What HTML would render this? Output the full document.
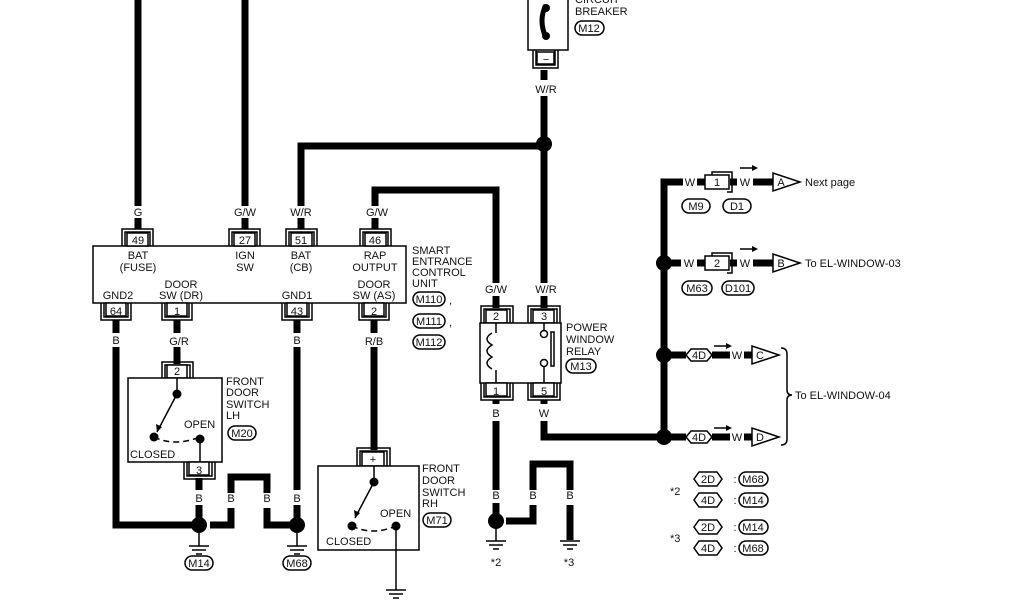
<!DOCTYPE html>
<html><head><meta charset="utf-8"><style>
html,body{margin:0;padding:0;background:#fff;}
svg{display:block;}
text{font-family:"Liberation Sans",Arial,sans-serif;font-size:11px;fill:#111;}
</style></head><body>
<svg width="1024" height="600" viewBox="0 0 1024 600" xmlns="http://www.w3.org/2000/svg">
<g stroke="#000" stroke-width="7" fill="none" stroke-linejoin="miter">
<line x1="138" y1="0" x2="138" y2="206"/><line x1="138" y1="218" x2="138" y2="229"/>
<line x1="245" y1="0" x2="245" y2="206"/><line x1="245" y1="218" x2="245" y2="229"/>
<polyline points="301,206 301,146 544,146"/><line x1="301" y1="218" x2="301" y2="229"/>
<line x1="544" y1="70" x2="544" y2="80"/><line x1="544" y1="96" x2="544" y2="283"/><line x1="544" y1="296" x2="544" y2="308"/>
<polyline points="375,206 375,190 496,190 496,283"/><line x1="375" y1="218" x2="375" y2="229"/><line x1="496" y1="296" x2="496" y2="308"/>
<line x1="116" y1="320" x2="116" y2="333"/><polyline points="116,347 116,525 195,525"/>
<line x1="177" y1="320" x2="177" y2="333"/><line x1="177" y1="347" x2="177" y2="364"/>
<line x1="297" y1="320" x2="297" y2="333"/><line x1="297" y1="347" x2="297" y2="490"/><line x1="297" y1="505" x2="297" y2="518"/>
<line x1="374" y1="320" x2="374" y2="333"/><line x1="374" y1="347" x2="374" y2="450"/>
<line x1="199" y1="478" x2="199" y2="490"/><line x1="199" y1="505" x2="199" y2="518"/>
<polyline points="210,525 231,525 231,508"/><polyline points="231,493 231,477 267,477 267,493"/><polyline points="267,508 267,525 290,525"/>
<line x1="496" y1="400" x2="496" y2="404"/><line x1="496" y1="421" x2="496" y2="490"/><line x1="496" y1="503" x2="496" y2="514"/>
<polyline points="506,521 533,521 533,505"/><polyline points="533,490 533,464 570,464 570,490"/><line x1="570" y1="505" x2="570" y2="540"/>
<line x1="544" y1="400" x2="544" y2="404"/><polyline points="544,421 544,437 664,437"/>
<polyline points="664,437 664,182 683,182"/><line x1="697" y1="182" x2="705" y2="182"/>
<line x1="670" y1="263" x2="681" y2="263"/><line x1="697" y1="263" x2="705" y2="263"/>
<line x1="730" y1="182" x2="737" y2="182"/><line x1="753" y1="182" x2="773" y2="182"/>
<line x1="730" y1="263" x2="737" y2="263"/><line x1="753" y1="263" x2="773" y2="263"/>
<line x1="670" y1="355" x2="686" y2="355"/><line x1="712" y1="355" x2="730" y2="355"/><line x1="744" y1="355" x2="752" y2="355"/>
<line x1="670" y1="437" x2="686" y2="437"/><line x1="712" y1="437" x2="730" y2="437"/><line x1="744" y1="437" x2="752" y2="437"/>
</g>
<g fill="#000">
<circle cx="544" cy="144" r="8"/><circle cx="199" cy="525" r="8"/><circle cx="297" cy="525" r="8"/><circle cx="496" cy="521" r="8"/>
<circle cx="664" cy="263" r="8"/><circle cx="664" cy="355" r="8"/><circle cx="664" cy="437" r="8"/>
</g>
<g stroke="#000" stroke-width="1.5" fill="#fff">
<rect x="528" y="-2" width="40" height="52"/>
<path d="M533,50 V68 H558 V50 M536,50 V65 H555 V50" fill="none"/>
<rect x="537" y="52" width="17" height="12"/>
<rect x="93" y="246" width="313" height="57"/>
</g>
<path d="M546,5 q-8,15 0,33" stroke="#000" stroke-width="5" fill="none"/>
<circle cx="546" cy="8" r="4"/><circle cx="546" cy="36" r="4"/>
<g stroke="#000" stroke-width="1.5" fill="#fff">
<path d="M122,246 V229 H153 V246 M125,246 V232 H150 V246" fill="none"/><rect x="127" y="233" width="21" height="13"/>
<path d="M229,246 V229 H260 V246 M232,246 V232 H257 V246" fill="none"/><rect x="234" y="233" width="21" height="13"/>
<path d="M286,246 V229 H317 V246 M289,246 V232 H314 V246" fill="none"/><rect x="291" y="233" width="21" height="13"/>
<path d="M360,246 V229 H391 V246 M363,246 V232 H388 V246" fill="none"/><rect x="365" y="233" width="21" height="13"/>
<path d="M101,303 V320 H131 V303 M104,303 V317 H128 V303" fill="none"/><rect x="106" y="303" width="20" height="13"/>
<path d="M162,303 V320 H192 V303 M165,303 V317 H189 V303" fill="none"/><rect x="167" y="303" width="20" height="13"/>
<path d="M282,303 V320 H312 V303 M285,303 V317 H309 V303" fill="none"/><rect x="287" y="303" width="20" height="13"/>
<path d="M359,303 V320 H389 V303 M362,303 V317 H386 V303" fill="none"/><rect x="364" y="303" width="20" height="13"/>
<path d="M162,378 V362 H193 V378 M165,378 V365 H190 V378" fill="none"/><rect x="167" y="365" width="20" height="13"/>
<rect x="128" y="378" width="94" height="84"/>
<path d="M184,462 V479 H215 V462 M187,462 V476 H212 V462" fill="none"/><rect x="189" y="462" width="20" height="13"/>
<path d="M357,466 V448 H390 V466 M360,466 V451 H387 V466" fill="none"/><rect x="362" y="452" width="22" height="14"/>
<rect x="318" y="466" width="101" height="84"/>
<path d="M481,323 V306 H513 V323 M484,323 V309 H510 V323" fill="none"/><rect x="486" y="310" width="21" height="13"/>
<path d="M528,323 V306 H560 V323 M531,323 V309 H557 V323" fill="none"/><rect x="533" y="310" width="21" height="13"/>
<rect x="480" y="323" width="81" height="60"/>
<path d="M481,383 V400 H513 V383 M484,383 V397 H510 V383" fill="none"/><rect x="486" y="383" width="21" height="13"/>
<path d="M528,383 V400 H560 V383 M531,383 V397 H557 V383" fill="none"/><rect x="533" y="383" width="21" height="13"/>
</g>
<g stroke="#000" stroke-width="1.5" fill="none">
<line x1="177" y1="378" x2="177" y2="394"/><line x1="177" y1="394" x2="157" y2="432"/>
<path d="M154,437 q20,10 46,0" stroke-dasharray="6,4"/><line x1="200" y1="439" x2="200" y2="462"/>
<line x1="374" y1="466" x2="374" y2="482"/><line x1="374" y1="482" x2="355" y2="518"/>
<path d="M352,526 q20,10 44,0" stroke-dasharray="6,4"/><line x1="396" y1="526" x2="396" y2="590"/>
<line x1="496" y1="323" x2="496" y2="333"/><line x1="496" y1="370" x2="496" y2="383"/>
<path d="M492,333 q-10,6 0,12 q-10,6 0,12 q-10,6 0,12"/>
<line x1="544" y1="323" x2="544" y2="330"/><line x1="544" y1="367" x2="544" y2="383"/>
<circle cx="544" cy="334" r="3.5"/><circle cx="544" cy="363" r="3.5"/>
<rect x="551" y="332" width="3" height="34"/>
<path d="M199,533 V546 M189,546 H209 M192,550 H206 M196,554 H202"/>
<path d="M297,533 V546 M287,546 H307 M290,550 H304 M294,554 H300"/>
<path d="M496,529 V541 M486,541 H506 M489,545 H503 M493,549 H499"/>
<path d="M560,541 H580 M563,545 H577 M567,549 H573"/>
<path d="M386,590 H406 M389,594 H403 M393,598 H399"/>
<path d="M781,348 q6,0 6,6 V390 q0,5 5,5 q-5,0 -5,5 V439 q0,6 -6,6"/>
</g>
<g fill="#000"><circle cx="177" cy="394" r="4.5"/><circle cx="154" cy="437" r="4.5"/><circle cx="200" cy="439" r="4.5"/>
<circle cx="374" cy="482" r="4.5"/><circle cx="352" cy="526" r="4.5"/><circle cx="396" cy="526" r="4.5"/>
<path d="M157,432 l-1,-8 l6,3z"/><path d="M355,518 l-1,-8 l6,3z"/></g>
<g stroke="#000" stroke-width="1.5" fill="#fff">
<rect x="705" y="175" width="24" height="14"/><path d="M712,175 V172 H732 V192 H727" fill="none"/>
<rect x="705" y="256" width="24" height="14"/><path d="M712,256 V253 H732 V273 H727" fill="none"/>
<path d="M686,355 l5,-6 h16 l5,6 l-5,6 h-16z"/><path d="M686,437 l5,-6 h16 l5,6 l-5,6 h-16z"/>
<path d="M773,173 V191 L800,182Z"/><path d="M773,254 V272 L800,263Z"/>
<path d="M752,346 V364 L779,355Z"/><path d="M752,428 V446 L779,437Z"/>
<path d="M694,479 l5,-7 h18 l5,7 l-5,7 h-18z"/><path d="M694,500 l5,-7 h18 l5,7 l-5,7 h-18z"/>
<path d="M694,527 l5,-7 h18 l5,7 l-5,7 h-18z"/><path d="M694,548 l5,-7 h18 l5,7 l-5,7 h-18z"/>
</g>
<g stroke="#000" stroke-width="1.5" fill="none">
<rect x="739" y="472" width="29" height="14" rx="7"/><rect x="739" y="493" width="29" height="14" rx="7"/>
<rect x="739" y="520" width="29" height="14" rx="7"/><rect x="739" y="541" width="29" height="14" rx="7"/>
<rect x="575" y="21" width="29" height="14" rx="7"/>
<rect x="413" y="292" width="32" height="14" rx="7"/><rect x="413" y="314" width="32" height="14" rx="7"/><rect x="413" y="335" width="32" height="14" rx="7"/>
<rect x="228" y="426" width="28" height="14" rx="7"/><rect x="423" y="513" width="28" height="14" rx="7"/>
<rect x="566" y="359" width="30" height="14" rx="7"/>
<rect x="185" y="556" width="28" height="14" rx="7"/><rect x="283" y="556" width="28" height="14" rx="7"/>
<rect x="682" y="199" width="28" height="14" rx="7"/><rect x="723" y="199" width="28" height="14" rx="7"/>
<rect x="682" y="281" width="30" height="14" rx="7"/><rect x="722" y="281" width="32" height="14" rx="7"/>
<line x1="740" y1="168" x2="752" y2="168"/><line x1="740" y1="249" x2="752" y2="249"/>
<line x1="714" y1="346" x2="726" y2="346"/><line x1="714" y1="428" x2="726" y2="428"/>
</g>
<g fill="#000"><path d="M752,165 l6,3 l-6,3z"/><path d="M752,246 l6,3 l-6,3z"/><path d="M726,343 l6,3 l-6,3z"/><path d="M726,425 l6,3 l-6,3z"/></g>
<g text-anchor="middle">
<text x="138" y="216">G</text><text x="245" y="216">G/W</text><text x="301" y="216">W/R</text><text x="377" y="216">G/W</text>
<text x="138" y="244">49</text><text x="245" y="244">27</text><text x="301" y="244">51</text><text x="375" y="244">46</text>
<text x="138" y="259">BAT</text><text x="138" y="271">(FUSE)</text><text x="245" y="259">IGN</text><text x="245" y="271">SW</text>
<text x="301" y="259">BAT</text><text x="301" y="271">(CB)</text><text x="375" y="259">RAP</text><text x="375" y="271">OUTPUT</text>
<text x="118" y="299">GND2</text><text x="181" y="288">DOOR</text><text x="181" y="299">SW (DR)</text>
<text x="297" y="299">GND1</text><text x="374" y="288">DOOR</text><text x="374" y="299">SW (AS)</text>
<text x="116" y="315">64</text><text x="177" y="315">1</text><text x="297" y="315">43</text><text x="374" y="315">2</text>
<text x="116" y="344">B</text><text x="179" y="345">G/R</text><text x="297" y="344">B</text><text x="374" y="345">R/B</text>
<text x="177" y="375">2</text><text x="199" y="474">3</text><text x="373" y="463">+</text>
<text x="199" y="502">B</text><text x="231" y="502">B</text><text x="267" y="502">B</text><text x="297" y="502">B</text>
<text x="496" y="293">G/W</text><text x="546" y="293">W/R</text><text x="546" y="93">W/R</text><text x="546" y="63">−</text>
<text x="496" y="320">2</text><text x="544" y="320">3</text><text x="496" y="395">1</text><text x="544" y="395">5</text>
<text x="496" y="417">B</text><text x="544" y="417">W</text>
<text x="496" y="499">B</text><text x="533" y="499">B</text><text x="570" y="499">B</text>
<text x="496" y="566">*2</text><text x="569" y="566">*3</text>
<text x="690" y="186">W</text><text x="717" y="186">1</text><text x="745" y="186">W</text><text x="781" y="186">A</text>
<text x="689" y="267">W</text><text x="717" y="267">2</text><text x="745" y="267">W</text><text x="781" y="267">B</text>
<text x="699" y="359">4D</text><text x="737" y="359">W</text><text x="760" y="359">C</text>
<text x="699" y="441">4D</text><text x="737" y="441">W</text><text x="760" y="441">D</text>
<text x="708" y="483">2D</text><text x="708" y="504">4D</text><text x="708" y="531">2D</text><text x="708" y="552">4D</text>
<text x="735" y="483">:</text><text x="735" y="504">:</text><text x="735" y="531">:</text><text x="735" y="552">:</text>
<text x="753" y="483">M68</text><text x="753" y="504">M14</text><text x="753" y="531">M14</text><text x="753" y="552">M68</text>
<text x="589" y="32">M12</text><text x="429" y="303">M110</text><text x="429" y="325">M111</text><text x="429" y="346">M112</text>
<text x="242" y="437">M20</text><text x="437" y="524">M71</text><text x="581" y="370">M13</text>
<text x="199" y="567">M14</text><text x="297" y="567">M68</text>
<text x="696" y="210">M9</text><text x="737" y="210">D1</text><text x="697" y="292">M63</text><text x="738" y="292">D101</text>
</g>
<text x="575" y="3">CIRCUIT</text><text x="575" y="15">BREAKER</text>
<text x="412" y="254">SMART</text><text x="412" y="265">ENTRANCE</text><text x="412" y="276">CONTROL</text><text x="412" y="287">UNIT</text>
<text x="449" y="304">,</text><text x="449" y="326">,</text>
<text x="226" y="385">FRONT</text><text x="226" y="396">DOOR</text><text x="226" y="408">SWITCH</text><text x="226" y="419">LH</text>
<text x="184" y="428">OPEN</text><text x="130" y="458">CLOSED</text>
<text x="422" y="472">FRONT</text><text x="422" y="484">DOOR</text><text x="422" y="496">SWITCH</text><text x="422" y="507">RH</text>
<text x="380" y="517">OPEN</text><text x="326" y="545">CLOSED</text>
<text x="566" y="331">POWER</text><text x="566" y="343">WINDOW</text><text x="566" y="355">RELAY</text>
<text x="805" y="186">Next page</text><text x="805" y="267">To EL-WINDOW-03</text><text x="795" y="399">To EL-WINDOW-04</text>
<text x="670" y="495">*2</text><text x="670" y="542">*3</text>
</svg>
</body></html>
